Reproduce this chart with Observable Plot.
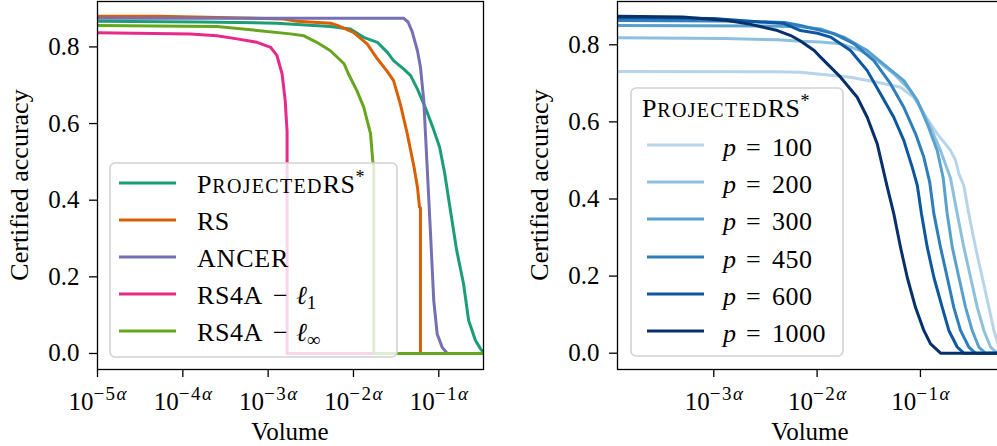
<!DOCTYPE html>
<html><head><meta charset="utf-8">
<script src="https://cdn.jsdelivr.net/npm/d3@7"></script>
<script src="https://cdn.jsdelivr.net/npm/@observablehq/plot@0.6"></script>
<style>
html,body{margin:0;padding:0;background:#fff;overflow:hidden;width:997px;height:446px;}
#wrap{position:relative;width:997px;height:446px;overflow:hidden;background:#fff;}
.panel{position:absolute;top:0;width:490px;height:446px;}
</style></head><body>
<div id="wrap"><div class="panel" id="left" style="left:0"></div><div class="panel" id="right" style="left:520px"></div></div>
<script>
// ---------- shared ----------
const yTicks = [0, 0.2, 0.4, 0.6, 0.8];

// ---------- left panel (x = exponent k in 10^{kα}) ----------
const leftNames = ["ProjectedRS*", "RS", "ANCER", "RS4A − ℓ1", "RS4A − ℓ∞"];
const leftColors = ["#1b9e77", "#d95f02", "#7570b3", "#e7298a", "#66a61e"];
const leftXTicks = [-5, -4, -3, -2, -1];

const projX = [-5, -3.8, -2.9, -2.27, -2.04, -1.88, -1.72, -1.6, -1.53, -1.41, -1.33, -1.25, -1.16, -1.07, -0.99, -0.93, -0.87, -0.79, -0.71, -0.65, -0.57, -0.51, -0.47];
const projY = [0.867, 0.865, 0.862, 0.853, 0.847, 0.825, 0.812, 0.785, 0.764, 0.742, 0.725, 0.690, 0.643, 0.590, 0.538, 0.469, 0.382, 0.269, 0.182, 0.086, 0.034, 0.012, 0.0];

const rsX = [-5, -4.3, -2.82, -2.66, -2.27, -2.19, -2.0, -1.84, -1.72, -1.6, -1.53, -1.45, -1.37, -1.29, -1.25, -1.226, -1.215, -1.215, -0.47];
const rsY = [0.880, 0.880, 0.873, 0.867, 0.862, 0.856, 0.838, 0.808, 0.769, 0.735, 0.712, 0.650, 0.574, 0.486, 0.434, 0.382, 0.38, 0, 0];

const ancerX = [-5, -1.414, -1.36, -1.312, -1.25, -1.215, -1.176, -1.136, -1.097, -1.059, -1.019, -0.96, -0.90, -0.47];
const ancerY = [0.875, 0.875, 0.865, 0.84, 0.79, 0.747, 0.66, 0.486, 0.313, 0.138, 0.051, 0.016, 0, 0];

const l1X = [-5, -3.91, -3.60, -3.365, -3.13, -2.97, -2.896, -2.837, -2.80, -2.786, -2.778, -2.778, -0.47];
const l1Y = [0.837, 0.834, 0.829, 0.821, 0.812, 0.799, 0.777, 0.730, 0.660, 0.608, 0.58, 0, 0];

const linfX = [-5, -3.6, -3.13, -2.74, -2.58, -2.43, -2.27, -2.11, -2.06, -1.96, -1.88, -1.84, -1.80, -1.774, -1.762, -1.762, -0.47];
const linfY = [0.856, 0.853, 0.843, 0.834, 0.829, 0.812, 0.790, 0.756, 0.730, 0.686, 0.643, 0.608, 0.574, 0.503, 0.49, 0, 0];

// ---------- right panel ----------
const rightTitle = "ProjectedRS*";
const rightP = ["100", "200", "300", "450", "600", "1000"];
const rightColors = ["#b7d4ea", "#8dc0dd", "#58a1cf", "#2e7ebc", "#0d57a1", "#08306b"];
const rightXTicks = [-3, -2, -1];

const p100X = [-3.93, -2.4, -2.161, -1.677, -1.418, -1.193, -1.064, -0.967, -0.837, -0.709, -0.660, -0.628, -0.580, -0.532, -0.467, -0.402, -0.337, -0.289, -0.241, -0.19, -0.1];
const p100Y = [0.731, 0.730, 0.729, 0.716, 0.703, 0.690, 0.664, 0.621, 0.569, 0.526, 0.500, 0.465, 0.435, 0.362, 0.275, 0.197, 0.119, 0.059, 0.016, 0, 0];

const p200X = [-3.93, -2.9, -2.383, -2.161, -1.967, -1.773, -1.580, -1.418, -1.258, -1.096, -0.999, -0.902, -0.806, -0.71, -0.644, -0.580, -0.515, -0.450, -0.386, -0.321, -0.257, -0.1];
const p200Y = [0.818, 0.816, 0.813, 0.809, 0.807, 0.803, 0.785, 0.759, 0.725, 0.681, 0.638, 0.586, 0.526, 0.455, 0.362, 0.275, 0.197, 0.119, 0.059, 0.016, 0, 0];

const p300X = [-3.93, -2.5, -2.161, -1.967, -1.742, -1.515, -1.321, -1.161, -1.031, -0.934, -0.837, -0.78, -0.741, -0.692, -0.628, -0.563, -0.499, -0.435, -0.370, -0.1];
const p300Y = [0.850, 0.849, 0.847, 0.841, 0.820, 0.785, 0.742, 0.707, 0.656, 0.595, 0.525, 0.455, 0.362, 0.275, 0.197, 0.119, 0.059, 0.016, 0, 0];

const p450X = [-3.93, -2.9, -2.318, -2.161, -1.838, -1.645, -1.451, -1.290, -1.161, -1.047, -0.967, -0.91, -0.870, -0.806, -0.741, -0.677, -0.612, -0.532, -0.467, -0.1];
const p450Y = [0.863, 0.862, 0.858, 0.850, 0.829, 0.803, 0.759, 0.699, 0.638, 0.569, 0.508, 0.443, 0.362, 0.275, 0.197, 0.119, 0.059, 0.016, 0, 0];

const p600X = [-3.93, -3.0, -2.318, -2.161, -1.996, -1.870, -1.677, -1.515, -1.387, -1.258, -1.161, -1.079, -1.03, -0.99, -0.934, -0.870, -0.789, -0.725, -0.644, -0.580, -0.1];
const p600Y = [0.870, 0.868, 0.855, 0.837, 0.830, 0.820, 0.785, 0.733, 0.673, 0.612, 0.552, 0.482, 0.435, 0.362, 0.275, 0.197, 0.119, 0.059, 0.016, 0, 0];

const p1000X = [-3.93, -3.3, -2.867, -2.642, -2.383, -2.255, -2.161, -2.028, -1.967, -1.773, -1.612, -1.515, -1.418, -1.321, -1.258, -1.193, -1.128, -1.048, -0.967, -0.902, -0.805, -0.1];
const p1000Y = [0.874, 0.872, 0.863, 0.853, 0.837, 0.824, 0.810, 0.785, 0.768, 0.716, 0.664, 0.612, 0.543, 0.431, 0.362, 0.275, 0.197, 0.119, 0.059, 0.024, 0, 0];

// ---------- helpers ----------
const FONT = "'Liberation Serif', 'DejaVu Serif', serif";
const toPts = (X, Y) => X.map((v, i) => ({x: v, y: Y[i]}));

function rich(g, x, y, parts, size = 26) {
  const t = g.append("text").attr("x", x).attr("y", y).attr("font-size", size)
    .attr("fill", "black").attr("text-anchor", "start");
  for (const p of parts) {
    const s = t.append("tspan").text(p.t);
    if (p.size) s.attr("font-size", p.size);
    if (p.dy != null) s.attr("dy", p.dy);
    if (p.x != null) s.attr("x", p.x);
    if (p.it) s.attr("font-style", "italic");
    if (p.ls) s.attr("letter-spacing", p.ls);
  }
  return t;
}

function projectedParts() {
  return [{t: "P", ls: 0.8}, {t: "ROJECTED", size: 20, ls: 1.3}, {t: "RS", ls: 0.5}, {t: "*", size: 18, dy: -10}];
}

function makePanel(el, series, xDomain, yDomain, xTicks) {
  const marks = [];
  for (const s of series) {
    marks.push(Plot.line(toPts(s.x, s.y), {x: "x", y: "y", stroke: s.color, strokeWidth: 3, clip: true}));
  }
  marks.push(Plot.frame({stroke: "black", strokeWidth: 1.3}));
  marks.push(Plot.axisX({ticks: xTicks, tickFormat: () => "10", tickSize: 8, tickPadding: 15, label: null, strokeWidth: 1.3}));
  marks.push(Plot.axisY({ticks: yTicks, tickFormat: d3.format(".1f"), tickSize: 8, tickPadding: 10, label: null, strokeWidth: 1.3}));
  const fig = Plot.plot({
    width: 490, height: 446,
    marginLeft: 97, marginRight: 7, marginTop: 1, marginBottom: 77,
    x: {domain: xDomain},
    y: {domain: yDomain},
    style: {fontFamily: FONT, fontSize: "25px", background: "white", color: "black", overflow: "visible"},
    marks
  });
  el.appendChild(fig);
  const svg = d3.select(fig);
  // superscripted tick labels 10^{kα}
  svg.selectAll('[aria-label="x-axis tick label"] text').each(function (_, i) {
    const t = d3.select(this);
    t.text("");
    t.append("tspan").text("10");
    t.append("tspan").attr("font-size", 19).attr("dy", -10).attr("letter-spacing", 1.5).text("−" + Math.abs(xTicks[i]));
    t.append("tspan").attr("font-size", 19).attr("font-style", "italic").text("α");
  });
  // axis labels
  svg.append("text").attr("x", 290).attr("y", 440).attr("text-anchor", "middle")
    .attr("font-size", 25).attr("fill", "black").text("Volume");
  svg.append("text").attr("transform", "translate(28,185) rotate(-90)").attr("text-anchor", "middle")
    .attr("font-size", 26).attr("fill", "black").text("Certified accuracy");
  return svg;
}

// ---------- left ----------
const leftSeries = [
  {x: projX, y: projY, color: leftColors[0]},
  {x: rsX, y: rsY, color: leftColors[1]},
  {x: ancerX, y: ancerY, color: leftColors[2]},
  {x: l1X, y: l1Y, color: leftColors[3]},
  {x: linfX, y: linfY, color: leftColors[4]}
];
const L = makePanel(document.getElementById("left"), leftSeries, [-5, -0.476], [-0.0418, 0.9185], leftXTicks);
{
  const g = L.append("g").attr("font-family", FONT);
  g.append("rect").attr("x", 110).attr("y", 163).attr("width", 287).attr("height", 194).attr("rx", 5)
    .attr("fill", "white").attr("fill-opacity", 0.8).attr("stroke", "#d2d2d2").attr("stroke-width", 1.6);
  const rows = [183, 220, 257, 294, 331];
  const labelParts = [
    projectedParts(),
    [{t: "RS", ls: 0.5}],
    [{t: "ANCER", ls: 0.8}],
    [{t: "RS4A", ls: 0.6}, {t: "−", x: 273}, {t: "ℓ", it: true, x: 296}, {t: "1", size: 19, dy: 5}],
    [{t: "RS4A", ls: 0.6}, {t: "−", x: 273}, {t: "ℓ", it: true, x: 296}, {t: "∞", size: 19, dy: 5}]
  ];
  leftNames.forEach((name, i) => {
    g.append("line").attr("x1", 119).attr("x2", 176).attr("y1", rows[i]).attr("y2", rows[i])
      .attr("stroke", leftColors[i]).attr("stroke-width", 3);
    const t = rich(g, 197, rows[i] + 9.5, labelParts[i]);
    t.append("title").text(name);
  });
}

// ---------- right ----------
const rightSeries = [
  {x: p100X, y: p100Y, color: rightColors[0]},
  {x: p200X, y: p200Y, color: rightColors[1]},
  {x: p300X, y: p300Y, color: rightColors[2]},
  {x: p450X, y: p450Y, color: rightColors[3]},
  {x: p600X, y: p600Y, color: rightColors[4]},
  {x: p1000X, y: p1000Y, color: rightColors[5]}
];
const R = makePanel(document.getElementById("right"), rightSeries, [-3.932, -0.196], [-0.0423, 0.9123], rightXTicks);
{
  const g = R.append("g").attr("font-family", FONT);
  g.append("rect").attr("x", 111).attr("y", 88).attr("width", 212).attr("height", 268).attr("rx", 5)
    .attr("fill", "white").attr("fill-opacity", 0.8).attr("stroke", "#d2d2d2").attr("stroke-width", 1.6);
  const tt = rich(g, 122, 117, projectedParts());
  tt.append("title").text(rightTitle);
  const rows = [145, 182, 219, 257, 294, 331];
  rightP.forEach((p, i) => {
    g.append("line").attr("x1", 127).attr("x2", 184).attr("y1", rows[i]).attr("y2", rows[i])
      .attr("stroke", rightColors[i]).attr("stroke-width", 3);
    rich(g, 203, rows[i] + 10.5, [{t: "p", it: true}, {t: "=", x: 226}, {t: p, x: 252, ls: 0.5}]);
  });
}
</script></body></html>
